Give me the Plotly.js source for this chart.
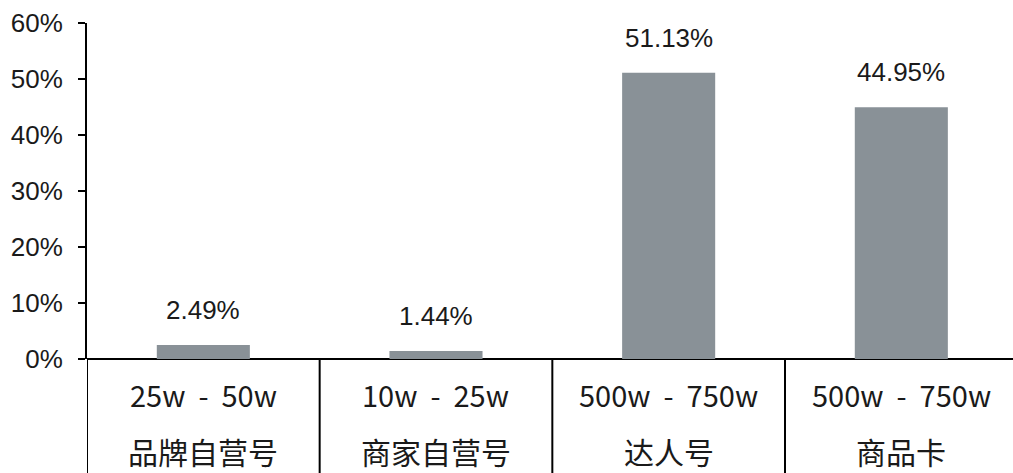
<!DOCTYPE html>
<html><head><meta charset="utf-8">
<script src="https://cdn.plot.ly/plotly-3.0.1.min.js"></script>
<style>html,body{margin:0;padding:0;background:#fff}#chart{width:1013px;height:473px}</style>
</head><body><div id="chart"></div>
<script>
const names = ["品牌自营号", "商家自营号", "达人号", "商品卡"];
const ranges = ["25w - 50w", "10w - 25w", "500w - 750w", "500w - 750w"];
const shares = [2.49, 1.44, 51.13, 44.95];
const tickVals = [0, 10, 20, 30, 40, 50, 60];
const tickText = ["0%", "10%", "20%", "30%", "40%", "50%", "60%"];

const idx = names.map((_, i) => i);
const latin = "Liberation Sans, Arial, sans-serif";
const cjk = "Noto Sans CJK SC, sans-serif";

const annotations = [];
idx.forEach(i => {
  annotations.push({x: i, y: shares[i], xref: 'x', yref: 'y', text: shares[i].toFixed(2) + '%',
    showarrow: false, yanchor: 'bottom', yshift: 18, font: {family: latin, size: 26, color: '#1a1a1a'}});
  annotations.push({x: i, y: 0, xref: 'x', yref: 'y', text: ranges[i].replace(/ - /g, '  -  '), showarrow: false,
    yanchor: 'middle', yshift: -35, font: {family: cjk, size: 29, color: '#1a1a1a'}});
  annotations.push({x: i, y: 0, xref: 'x', yref: 'y', text: names[i], showarrow: false,
    yanchor: 'middle', yshift: -92, font: {family: cjk, size: 30, color: '#1a1a1a'}});
});

const shapes = [];
shapes.push({type: 'line', xref: 'x', yref: 'paper', x0: -0.5, x1: -0.5, y0: 0, y1: -0.34,
  line: {color: '#000', width: 2}});
for (let i = 0; i < names.length - 1; i++) {
  shapes.push({type: 'line', xref: 'x', yref: 'paper', x0: i + 0.5, x1: i + 0.5, y0: 0, y1: -0.34,
    line: {color: '#000', width: 2}});
}

const data = [{
  type: 'bar', x: idx, y: shares, width: 0.4,
  marker: {color: '#899197'}, hoverinfo: 'skip'
}];

const layout = {
  width: 1013, height: 473,
  margin: {l: 87, r: 0, t: 23, b: 114},
  paper_bgcolor: '#fff', plot_bgcolor: '#fff',
  showlegend: false,
  xaxis: {range: [-0.5, 3.48], showticklabels: false, ticks: '', showgrid: false, zeroline: false,
    showline: false, fixedrange: true},
  yaxis: {range: [0, 60], tickvals: tickVals, ticktext: tickText, ticks: 'outside', ticklen: 7,
    tickwidth: 2, tickcolor: '#000', showline: true, linecolor: '#000', linewidth: 2,
    showgrid: false, zeroline: true, zerolinecolor: '#000', zerolinewidth: 2,
    tickfont: {family: latin, size: 26, color: '#1a1a1a'}, ticklabelstandoff: 10},
  annotations: annotations,
  shapes: shapes
};
Plotly.newPlot('chart', data, layout, {displayModeBar: false, staticPlot: true});
</script></body></html>
